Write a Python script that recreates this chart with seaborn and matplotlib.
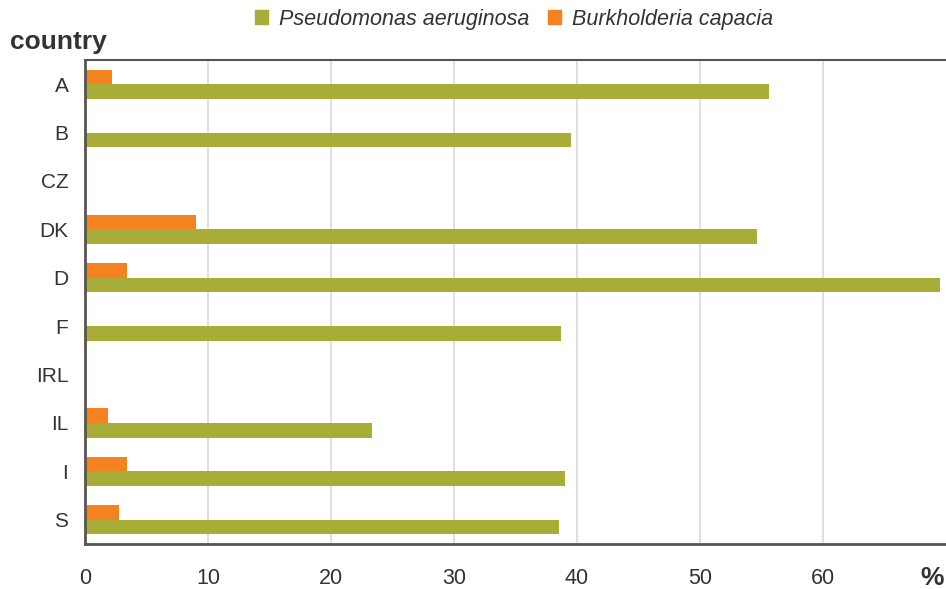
import numpy as np
import pandas as pd
import seaborn as sns
import matplotlib.pyplot as plt
from matplotlib.patches import Patch

countries = ['A', 'B', 'CZ', 'DK', 'D', 'F', 'IRL', 'IL', 'I', 'S']
pseudomonas = [55.6, 39.5, np.nan, 54.6, 69.5, 38.7, np.nan, 23.3, 39.0, 38.5]
burkholderia = [2.2, np.nan, np.nan, 9.0, 3.4, np.nan, np.nan, 1.9, 3.4, 2.8]
series = ['Burkholderia capacia', 'Pseudomonas aeruginosa']
ticks = [0, 10, 20, 30, 40, 50, 60]

green = '#A8AD38'
orange = '#F58220'
txt = '#333333'

df = pd.DataFrame({
    'country': countries * 2,
    'value': burkholderia + pseudomonas,
    'organism': [series[0]] * len(countries) + [series[1]] * len(countries),
})

sns.set_style('white')
plt.rcParams['font.family'] = ['Liberation Sans', 'DejaVu Sans']

dpi = 100
fig = plt.figure(figsize=(946 / dpi, 589 / dpi), dpi=dpi)
ax = fig.add_axes([85 / 946, 1 - 544 / 589, 861 / 946, 484 / 589])

sns.barplot(data=df, y='country', x='value', hue='organism', order=countries,
            hue_order=series, palette=[orange, green], width=0.6,
            orient='h', ax=ax, legend=False, saturation=1, linewidth=0)

ax.set_xlim(0, 70)
ax.set_ylim(len(countries) - 0.5, -0.5)
ax.set_xticks(ticks)
ax.set_xticklabels([str(t) for t in ticks])
ax.xaxis.grid(True, color='#D9D9D9', linewidth=1.2, zorder=0)
ax.set_axisbelow(True)
ax.tick_params(axis='x', length=0, pad=17, labelsize=15.5, labelcolor=txt)
ax.tick_params(axis='y', length=0, pad=12, labelsize=15, labelcolor=txt)
ax.set_xlabel('')
ax.set_ylabel('')

for side in ['left', 'bottom', 'top']:
    ax.spines[side].set_color('#5A5450')
    ax.spines[side].set_linewidth(2)
ax.spines['top'].set_linewidth(1.5)
ax.spines['right'].set_visible(False)

fig.text(10 / 946, 1 - 42 / 589, 'country', fontsize=19, fontweight='bold',
         color=txt, va='center', ha='left')
fig.text(932 / 946, 1 - 578 / 589, '%', fontsize=19, fontweight='bold',
         color=txt, va='center', ha='center')

handles = [Patch(color=green, label='Pseudomonas aeruginosa'),
           Patch(color=orange, label='Burkholderia capacia')]
leg = fig.legend(handles=handles, loc='center', bbox_to_anchor=(514 / 946, 1 - 19 / 589),
                 ncol=2, frameon=False, prop={'size': 15.5, 'style': 'italic'},
                 handlelength=0.6, handleheight=0.6, handletextpad=0.5,
                 columnspacing=0.9)
for t in leg.get_texts():
    t.set_color(txt)

fig.savefig('out.png', dpi=dpi)
